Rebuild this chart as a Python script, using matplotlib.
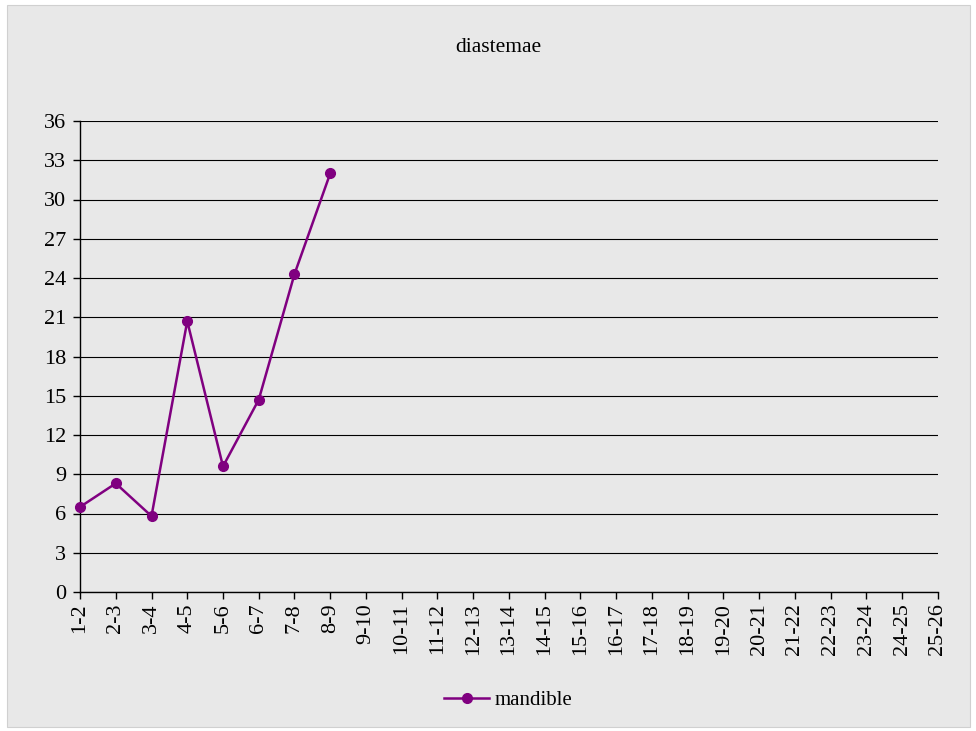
import matplotlib
matplotlib.use("Agg")
import matplotlib.pyplot as plt
from matplotlib.patches import Rectangle

categories = [f"{i}-{i+1}" for i in range(1, 26)]
mandible = [6.5, 8.3, 5.8, 20.7, 9.6, 14.7, 24.3, 32.0]

plt.rcParams['font.family'] = ['Liberation Serif', 'DejaVu Serif']

W, H = 976, 731
fig = plt.figure(figsize=(W / 100, H / 100), dpi=100, facecolor='white')
fig.patches.append(Rectangle((7 / W, 4 / H), 963 / W, 722 / H,
                             transform=fig.transFigure, facecolor='#e8e8e8',
                             edgecolor='#d0d0d0', lw=0.8, zorder=-1))

ax = fig.add_axes([80 / W, 1 - 592 / H, 858 / W, 471 / H])
ax.set_facecolor('#e8e8e8')
x = list(range(len(categories)))
ax.plot(x[:len(mandible)], mandible, color='#800080', lw=1.8, marker='o', ms=7,
        label='mandible', clip_on=False, zorder=3)

ax.set_xlim(0, len(categories) - 1)
ax.set_ylim(0, 36)
ax.set_yticks(range(0, 37, 3))
ax.set_xticks(x)
ax.set_xticklabels(categories, rotation=90, fontsize=16)
ax.tick_params(axis='y', labelsize=16, length=5, width=1, direction='out', pad=5)
ax.tick_params(axis='x', length=5, width=1, direction='out', pad=3)
ax.grid(axis='y', color='black', lw=0.8)
ax.set_axisbelow(True)
for s in ('top', 'right'):
    ax.spines[s].set_visible(False)
for s in ('left', 'bottom'):
    ax.spines[s].set_color('black')
    ax.spines[s].set_linewidth(1)

fig.text(498 / W, 1 - 48 / H, 'diastemae', ha='center', va='center', fontsize=15.5)
fig.legend(loc='center', bbox_to_anchor=(508 / W, 1 - 700 / H), frameon=False,
           fontsize=15, handlelength=2.2, handletextpad=0.25)

fig.savefig('out.png', dpi=100, facecolor='white')
